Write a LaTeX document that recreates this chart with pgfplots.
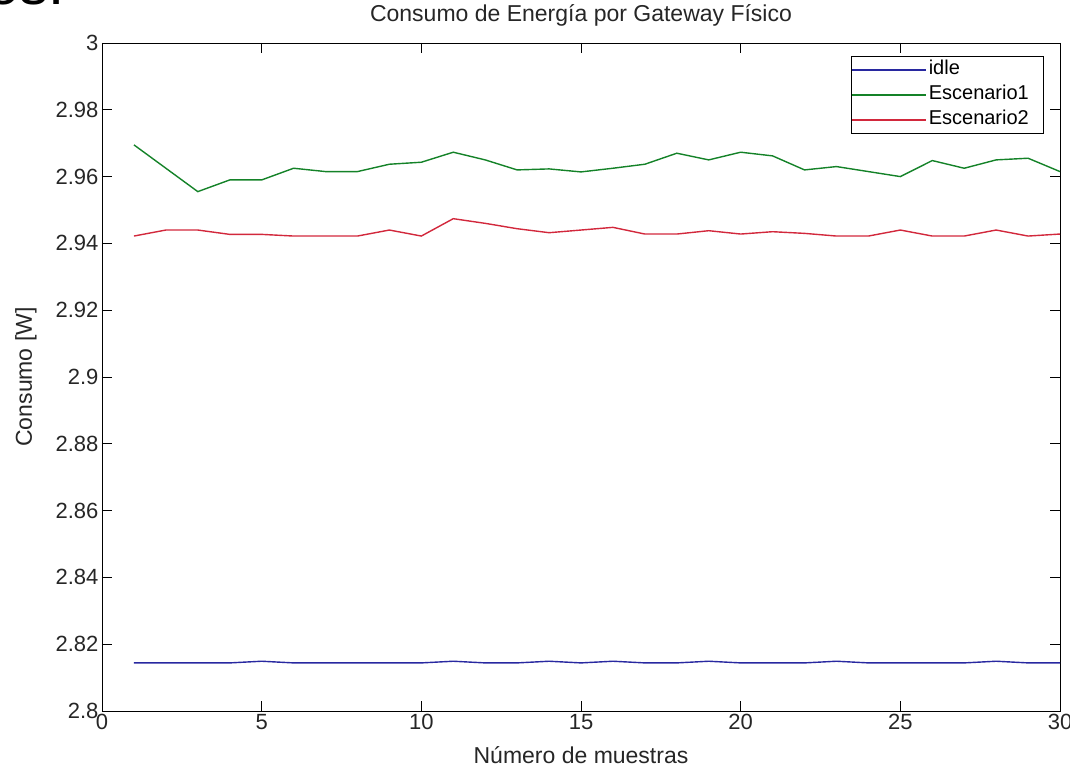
\documentclass[border=0pt]{standalone}
\usepackage{fontspec}
\setmainfont{Liberation Sans}
\usepackage{pgfplots}
\pgfplotsset{compat=1.18}
\definecolor{cidle}{RGB}{40,40,160}
\definecolor{cesc1}{RGB}{20,130,40}
\definecolor{cesc2}{RGB}{210,40,60}
\begin{document}
\begin{tikzpicture}
\useasboundingbox (-102pt,-57pt) rectangle (968pt,711pt);
\node[anchor=base west, font=\fontsize{58}{64}\selectfont, inner sep=0pt] at (-115pt,706pt) {os.};
\begin{axis}[
  at={(0,0)}, anchor=south west,
  scale only axis, width=958pt, height=668pt,
  xmin=0, xmax=30, ymin=2.8, ymax=3,
  xtick={0,5,10,15,20,25,30},
  ytick={2.8,2.82,2.84,2.86,2.88,2.9,2.92,2.94,2.96,2.98,3},
  tick align=inside, major tick length=10pt,
  tick style={black, line width=0.8pt},
  axis line style={line width=0.9pt},
  /pgf/number format/assume math mode=true,
  yticklabel style={/pgf/number format/fixed, /pgf/number format/precision=2},
  tick label style={font=\fontsize{22}{26}\selectfont, text=black!85},
  title={Consumo de Energía por Gateway Físico},
  title style={at={(axis description cs:0.5,1)}, anchor=base, yshift=15pt, font=\fontsize{23}{27}\selectfont, text=black!85},
  xlabel={Número de muestras},
  xlabel style={at={(axis description cs:0.5,0)}, anchor=base, yshift=-52pt, font=\fontsize{23}{27}\selectfont, text=black!85},
  ylabel={Consumo [W]},
  ylabel style={at={(axis description cs:-0.0795,0.5)}, anchor=center, font=\fontsize{23}{27}\selectfont, text=black!85},
  legend style={at={(axis description cs:0.9823,0.9805)}, anchor=north east,
    font=\fontsize{20}{24}\selectfont, inner xsep=0pt, inner ysep=1pt, row sep=0pt,
    nodes={text height=15pt, text depth=5pt, inner ysep=2.5pt, inner xsep=2pt}},
  legend cell align=left,
  legend image code/.code={\draw[#1,line width=1.6pt] (-2pt,0pt) -- (72pt,0pt);},
  every axis plot/.append style={line width=1.4pt},
]
\addplot[color=cidle] coordinates {
(1,2.8144)(2,2.8144)(3,2.8144)(4,2.8144)(5,2.8149)(6,2.8144)(7,2.8144)(8,2.8144)(9,2.8144)(10,2.8144)
(11,2.8149)(12,2.8144)(13,2.8144)(14,2.8149)(15,2.8144)(16,2.8149)(17,2.8144)(18,2.8144)(19,2.8149)(20,2.8144)
(21,2.8144)(22,2.8144)(23,2.8149)(24,2.8144)(25,2.8144)(26,2.8144)(27,2.8144)(28,2.8149)(29,2.8144)(30,2.8144)};
\addlegendentry{idle\hspace*{12pt}}
\addplot[color=cesc1] coordinates {
(1,2.9695)(2,2.9625)(3,2.9555)(4,2.9590)(5,2.9590)(6,2.9625)(7,2.9615)(8,2.9615)(9,2.9637)(10,2.9643)
(11,2.9673)(12,2.9650)(13,2.9620)(14,2.9623)(15,2.9614)(16,2.9625)(17,2.9637)(18,2.9670)(19,2.9650)(20,2.9673)
(21,2.9662)(22,2.9620)(23,2.9630)(24,2.9615)(25,2.9600)(26,2.9648)(27,2.9625)(28,2.9650)(29,2.9655)(30,2.9615)};
\addlegendentry{Escenario1\hspace*{12pt}}
\addplot[color=cesc2] coordinates {
(1,2.9422)(2,2.9440)(3,2.9440)(4,2.9427)(5,2.9427)(6,2.9422)(7,2.9422)(8,2.9422)(9,2.9440)(10,2.9422)
(11,2.9474)(12,2.9460)(13,2.9444)(14,2.9432)(15,2.9440)(16,2.9448)(17,2.9428)(18,2.9428)(19,2.9438)(20,2.9428)
(21,2.9435)(22,2.9430)(23,2.9422)(24,2.9422)(25,2.9440)(26,2.9422)(27,2.9422)(28,2.9440)(29,2.9422)(30,2.9428)};
\addlegendentry{Escenario2\hspace*{12pt}}
\end{axis}
\end{tikzpicture}
\end{document}
